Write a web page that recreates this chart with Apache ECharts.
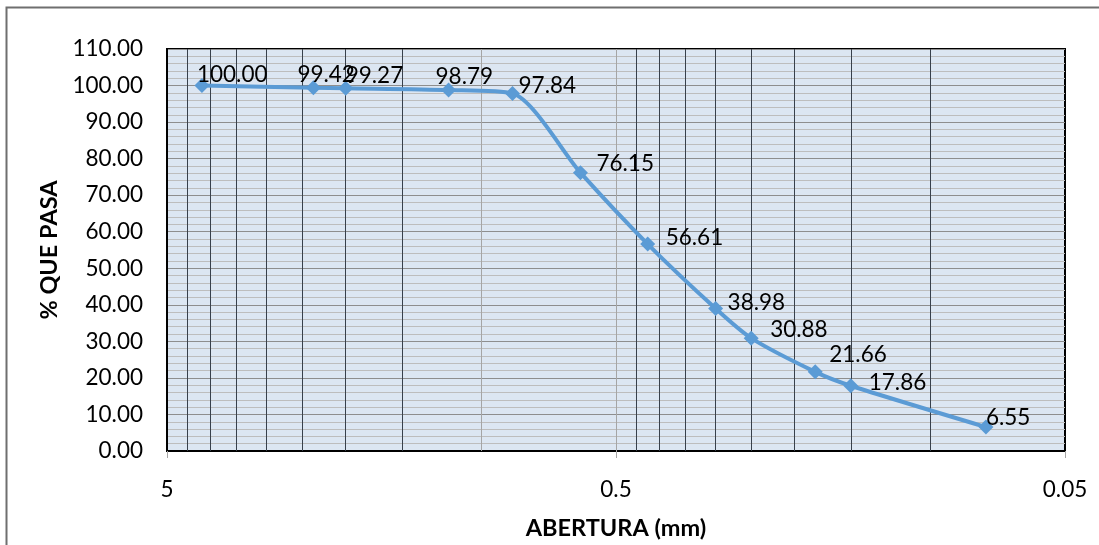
<!DOCTYPE html>
<html>
<head>
<meta charset="utf-8">
<script src="https://cdn.jsdelivr.net/npm/echarts@6/dist/echarts.min.js"></script>
<style>
html,body{margin:0;padding:0;background:#fff;}
#chart{width:1099px;height:545px;}
</style>
</head>
<body>
<div id="chart"></div>
<script>
// ---- data ----
const aberturas = [4.18, 2.36, 2.00, 1.18, 0.85, 0.60, 0.425, 0.30, 0.25, 0.18, 0.15, 0.075];
const porcentajePasa = [100.00, 99.42, 99.27, 98.79, 97.84, 76.15, 56.61, 38.98, 30.88, 21.66, 17.86, 6.55];
const xTickLabels = [5, 0.5, 0.05];
const xGridDark = [4.5, 4, 3.5, 3, 2.5, 2, 1.5, 0.45, 0.4, 0.35, 0.3, 0.25, 0.2, 0.15, 0.1];
const xGridLight = [1, 0.5];
const yMin = 0, yMax = 110, yStep = 10;

// ---- label nudges (style only) ----
const labelNudge = [[-5,-11],[-16,-13],[0,-12],[-13,-13],[6,-8],[16,-9],[18,-6],[12,-6],[19,-8],[14,-17],[18,-3],[0,-9]];

const FONT = 'Lato, "Liberation Sans", sans-serif';
const symbolSize = 15;

const points = aberturas.map((d, i) => ({
  value: [d, porcentajePasa[i]],
  label: { offset: [labelNudge[i][0] - symbolSize / 2, labelNudge[i][1]] }
}));

const gridLines = xGridDark.map(v => ({ xAxis: v, lineStyle: { color: '#38404b', width: 1, type: 'solid' } }))
  .concat(xGridLight.map(v => ({ xAxis: v, lineStyle: { color: '#a5a5a5', width: 1, type: 'solid' } })));

const chart = echarts.init(document.getElementById('chart'), null, { renderer: 'canvas' });
chart.setOption({
  animation: false,
  backgroundColor: '#ffffff',
  textStyle: { fontFamily: FONT },
  graphic: [{
    type: 'rect', left: 4, top: 5, z: 100, silent: true,
    shape: { x: 0, y: 0, width: 1200, height: 700 },
    style: { fill: 'none', stroke: '#6f6f6f', lineWidth: 2 }
  }],
  grid: {
    left: 167, right: 34, top: 49, bottom: 94,
    show: true, backgroundColor: '#dce6f2', borderColor: '#000000', borderWidth: 2
  },
  xAxis: {
    type: 'log', logBase: 10, min: 0.05, max: 5, inverse: true,
    name: 'ABERTURA (mm)', nameLocation: 'middle', nameGap: 65,
    nameTextStyle: { fontFamily: FONT, fontSize: 23.5, fontWeight: 'bold', color: '#000' },
    axisLine: { show: true, lineStyle: { color: '#000', width: 2 } },
    axisTick: { show: true, customValues: xTickLabels, length: 7, lineStyle: { color: '#a5a5a5', width: 1 } },
    axisLabel: {
      customValues: xTickLabels, margin: 27,
      fontFamily: FONT, fontSize: 22.5, color: '#000',
      formatter: v => String(+Number(v).toPrecision(3))
    },
    splitLine: { show: false },
    minorSplitLine: { show: false }
  },
  yAxis: {
    type: 'value', min: yMin, max: yMax, interval: yStep,
    name: '% QUE PASA', nameLocation: 'middle', nameGap: 95,
    nameTextStyle: { fontFamily: FONT, fontSize: 23.5, fontWeight: 'bold', color: '#000' },
    axisLine: { show: true, lineStyle: { color: '#000', width: 2 } },
    axisTick: { show: false },
    minorTick: { show: false, splitNumber: 5 },
    axisLabel: { margin: 24, fontFamily: FONT, fontSize: 22.5, color: '#000', formatter: v => v.toFixed(2) },
    splitLine: { show: true, lineStyle: { color: '#8e8e8e', width: 1 } },
    minorSplitLine: { show: true, lineStyle: { color: '#bdbdbd', width: 1 } }
  },
  series: [{
    type: 'line',
    data: points,
    smooth: 0.25,
    symbol: 'diamond',
    symbolSize: symbolSize,
    z: 3,
    lineStyle: { color: '#5b9bd5', width: 4 },
    itemStyle: { color: '#5b9bd5' },
    label: {
      show: true, position: 'right', distance: 0,
      fontFamily: FONT, fontSize: 22.5, color: '#000',
      formatter: p => p.value[1].toFixed(2)
    },
    markLine: {
      silent: true, z: 1, animation: false,
      symbol: ['none', 'none'],
      label: { show: false },
      emphasis: { disabled: true },
      data: gridLines
    }
  }]
});
</script>
</body>
</html>
